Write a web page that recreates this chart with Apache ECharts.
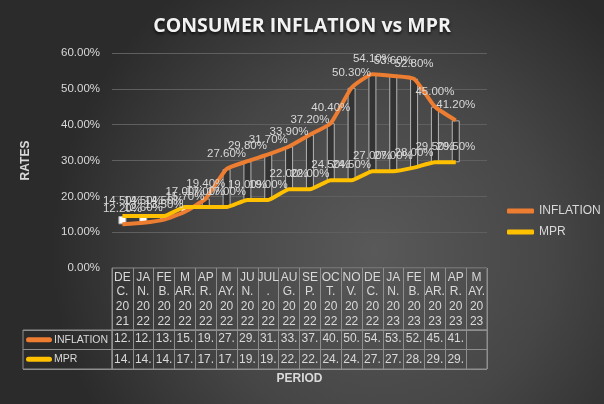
<!DOCTYPE html>
<html>
<head>
<meta charset="utf-8">
<script src="https://cdn.jsdelivr.net/npm/echarts@6/dist/echarts.min.js"></script>
<style>
html,body{margin:0;padding:0;background:#333;}
#c{width:604px;height:404px;}
</style>
</head>
<body>
<div id="c"></div>
<script>
// ---- data ----
const categories = ['DEC.2021','JAN.2022','FEB.2022','MAR.2022','APR.2022','MAY.2022','JUN.2022','JUL.2022','AUG.2022','SEP.2022','OCT.2022','NOV.2022','DEC.2022','JAN.2023','FEB.2023','MAR.2023','APR.2023','MAY.2023'];
const headerLabels = ['DE\nC.\n20\n21','JA\nN.\n20\n22','FE\nB.\n20\n22','M\nAR.\n20\n22','AP\nR.\n20\n22','M\nAY.\n20\n22','JU\nN.\n20\n22','JUL\n.\n20\n22','AU\nG.\n20\n22','SE\nP.\n20\n22','OC\nT.\n20\n22','NO\nV.\n20\n22','DE\nC.\n20\n22','JA\nN.\n20\n23','FE\nB.\n20\n23','M\nAR.\n20\n23','AP\nR.\n20\n23','M\nAY.\n20\n23'];
const inflation = [12.20,12.60,13.50,15.70,19.40,27.60,29.80,31.70,33.90,37.20,40.40,50.30,54.10,53.60,52.80,45.00,41.20,null];
const mpr = [14.50,14.50,14.50,17.00,17.00,17.00,19.00,19.00,22.00,22.00,24.50,24.50,27.00,27.00,28.00,29.50,29.50,null];
const yTicks = {min:0, max:60, interval:10};
const seriesNames = ['INFLATION','MPR'];

// ---- styles ----
const ORANGE = '#ED7D31', YELLOW = '#FFC000';
const TXT = '#d9d9d9', TBL = '#8e8e8e';
const FONT = 'Liberation Sans';

const base = inflation.map((v,i)=> (v==null||mpr[i]==null) ? '-' : Math.min(v, mpr[i]));
const diff = inflation.map((v,i)=> (v==null||mpr[i]==null) ? '-' : {
  value: Math.abs(mpr[i]-v),
  itemStyle: {color: mpr[i] > v ? '#ffffff' : '#333333'}
});
const cut = v => v==null ? '' : Math.floor(v) + '.';
const pct = p => p.value==null ? '' : Number(p.value).toFixed(2) + '%';

const chart = echarts.init(document.getElementById('c'), null, {renderer:'canvas'});
chart.setOption({
  animation:false,
  backgroundColor:{type:'radial', x:0.62, y:0.62, r:0.8,
    colorStops:[{offset:0,color:'#595959'},{offset:0.55,color:'#464646'},{offset:1,color:'#2b2b2b'}]},
  textStyle:{fontFamily:FONT},
  title:{text:'CONSUMER INFLATION vs MPR', left:'center', top:11,
    textStyle:{fontFamily:'Open Sans', fontSize:19.5, fontWeight:'bold', color:'#f2f2f2',
      textShadowColor:'rgba(0,0,0,0.7)', textShadowBlur:3, textShadowOffsetY:2}},
  legend:{data:seriesNames, orient:'vertical', left:502, top:200, itemGap:9,
    icon:'roundRect', itemWidth:27, itemHeight:5,
    textStyle:{color:TXT, fontSize:12, fontFamily:FONT}},
  grid:[
    {left:112, top:53, width:375, height:215},
    {left:112, top:268, width:375, height:62, show:true, borderColor:TBL, borderWidth:1},
    {left:112, top:330, width:375, height:39, show:true, borderColor:TBL, borderWidth:1},
    {left:23, top:330, width:89, height:39, show:true, borderColor:TBL, borderWidth:1}
  ],
  xAxis:[
    {gridIndex:0, type:'category', data:categories, axisLine:{show:false}, axisTick:{show:false}, axisLabel:{show:false}},
    {gridIndex:1, type:'category', data:categories, position:'top',
      axisLine:{show:false}, axisTick:{show:false},
      splitLine:{show:true, lineStyle:{color:TBL, width:1}},
      axisLabel:{inside:true, margin:2, interval:0, color:TXT, fontSize:12, lineHeight:14.7,
        formatter:(v,i)=>headerLabels[i]}},
    {gridIndex:2, type:'category', data:categories, position:'top',
      axisLine:{show:false}, axisTick:{show:false},
      splitLine:{show:true, lineStyle:{color:TBL, width:1}},
      axisLabel:{inside:true, margin:3, interval:0, color:TXT, fontSize:12,
        formatter:(v,i)=>cut(inflation[i])}},
    {gridIndex:2, type:'category', data:categories, position:'bottom',
      axisLine:{show:false}, axisTick:{show:false},
      axisLabel:{inside:true, margin:3, interval:0, color:TXT, fontSize:12,
        formatter:(v,i)=>cut(mpr[i])},
      name:'PERIOD', nameLocation:'middle', nameGap:4,
      nameTextStyle:{color:TXT, fontSize:12, fontWeight:'bold', verticalAlign:'top'}},
    {gridIndex:3, type:'value', show:false}
  ],
  yAxis:[
    {gridIndex:0, type:'value', min:yTicks.min, max:yTicks.max, interval:yTicks.interval,
      axisLine:{show:false}, axisTick:{show:false},
      splitLine:{lineStyle:{color:'#5f5f5f', width:1}},
      axisLabel:{color:TXT, fontSize:11.5, margin:12, formatter:v=>v.toFixed(2)+'%'},
      name:'RATES', nameLocation:'middle', nameGap:80, nameRotate:90,
      nameTextStyle:{color:TXT, fontSize:12, fontWeight:'bold'}},
    {gridIndex:1, type:'value', show:false},
    {gridIndex:2, type:'category', data:seriesNames, inverse:true,
      axisLine:{show:false}, axisTick:{show:false}, axisLabel:{show:false},
      splitLine:{show:true, lineStyle:{color:TBL, width:1}}},
    {gridIndex:3, type:'category', data:seriesNames, inverse:true,
      axisLine:{show:false}, axisTick:{show:false},
      splitLine:{show:true, lineStyle:{color:TBL, width:1}},
      axisLabel:{inside:true, align:'left', margin:3, color:TXT, fontSize:10.5,
        formatter:v=>'{' + (v==='MPR'?'m':'k') + '|}{n|' + v + '}',
        rich:{
          k:{width:26, height:5, backgroundColor:ORANGE, borderRadius:2.5},
          m:{width:26, height:5, backgroundColor:YELLOW, borderRadius:2.5},
          n:{color:TXT, fontSize:10.5, padding:[0,0,0,2]}
        }}}
  ],
  series:[
    {name:'INFLATION', type:'line', xAxisIndex:0, yAxisIndex:0, data:inflation, smooth:0.15,
      symbol:'none', color:ORANGE, lineStyle:{width:4, color:ORANGE}},
    {name:'MPR', type:'line', xAxisIndex:0, yAxisIndex:0, data:mpr, smooth:0.15,
      symbol:'none', color:YELLOW, lineStyle:{width:4, color:YELLOW}},
    {name:'ud-base', type:'bar', stack:'ud', xAxisIndex:0, yAxisIndex:0, data:base, barWidth:8,
      itemStyle:{color:'transparent'}, silent:true},
    {name:'ud-bar', type:'bar', stack:'ud', xAxisIndex:0, yAxisIndex:0, data:diff, barWidth:8,
      itemStyle:{borderColor:'#b4b4b4', borderWidth:1}},
    {name:'INFLATION-labels', type:'line', xAxisIndex:0, yAxisIndex:0, data:inflation,
      symbol:'circle', symbolSize:0.1, itemStyle:{color:'transparent'}, lineStyle:{opacity:0},
      label:{show:true, position:'top', distance:9, color:TXT, fontSize:11.5, formatter:pct}},
    {name:'MPR-labels', type:'line', xAxisIndex:0, yAxisIndex:0, data:mpr,
      symbol:'circle', symbolSize:0.1, itemStyle:{color:'transparent'}, lineStyle:{opacity:0},
      label:{show:true, position:'top', distance:9, color:TXT, fontSize:11.5, formatter:pct}}
  ]
});
</script>
</body>
</html>
